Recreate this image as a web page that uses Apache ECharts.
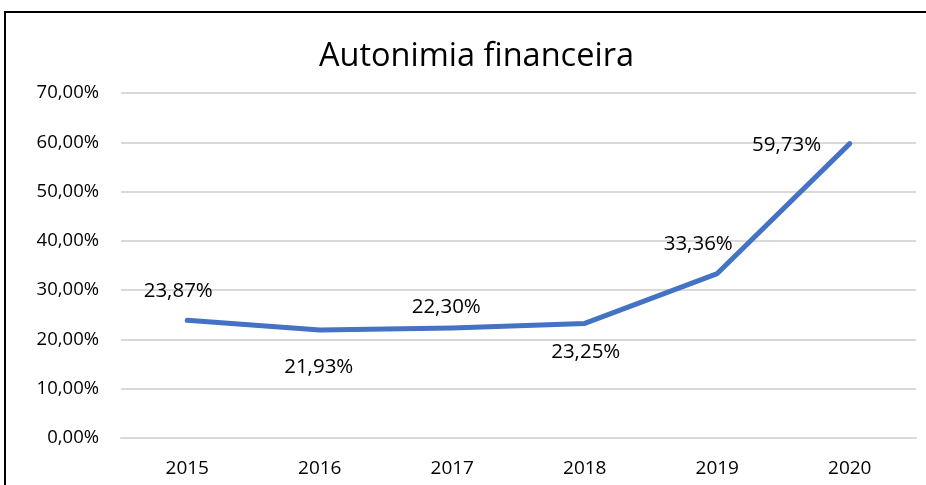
<!DOCTYPE html>
<html>
<head>
<meta charset="utf-8">
<script src="https://cdn.jsdelivr.net/npm/echarts@6/dist/echarts.min.js"></script>
<style>
  html, body { margin: 0; padding: 0; background: #fff; }
  #frame {
    position: absolute;
    left: 4px;
    top: 11px;
    width: 940px;
    height: 500px;
    border: 2px solid #000;
    box-sizing: border-box;
  }
  #chart {
    position: absolute;
    left: 0;
    top: 0;
    width: 926px;
    height: 485px;
  }
</style>
</head>
<body>
<div id="frame"></div>
<div id="chart"></div>
<script>
  // dados
  var anos = ['2015', '2016', '2017', '2018', '2019', '2020'];
  var autonomia = [23.87, 21.93, 22.30, 23.25, 33.36, 59.73];
  var yTicks = [0, 10, 20, 30, 40, 50, 60, 70];

  // posicao de cada rotulo (como no Excel)
  var labelCfg = [
    { position: 'top', offset: [-9, -4] },
    { position: 'bottom', offset: [-1, 12] },
    { position: 'top', offset: [-6, 4] },
    { position: 'bottom', offset: [1, 4] },
    { position: 'top', offset: [-19, -4] },
    { position: 'left', offset: [-14, 2] }
  ];

  function pct(v) {
    return v.toFixed(2).replace('.', ',') + '%';
  }

  var font = '"Open Sans", "Liberation Sans", sans-serif';

  var myChart = echarts.init(document.getElementById('chart'));
  var option = {
    animation: false,
    title: {
      text: 'Autonimia financeira',
      left: 314,
      top: 35,
      textStyle: {
        fontFamily: font,
        fontWeight: 'normal',
        fontSize: 32.5,
        color: '#000'
      }
    },
    grid: {
      left: 121,
      right: 10,
      top: 93,
      bottom: 47
    },
    xAxis: {
      type: 'category',
      data: anos,
      boundaryGap: true,
      axisTick: { show: false },
      axisLine: { lineStyle: { color: '#d9d9d9', width: 2 } },
      axisLabel: {
        fontFamily: font,
        fontSize: 19,
        color: '#000',
        margin: 21
      }
    },
    yAxis: {
      type: 'value',
      min: yTicks[0],
      max: yTicks[yTicks.length - 1],
      interval: 10,
      axisLine: { show: false },
      axisTick: { show: false },
      splitLine: { lineStyle: { color: '#d9d9d9', width: 2 } },
      axisLabel: {
        fontFamily: font,
        fontSize: 18.5,
        color: '#000',
        margin: 22,
        formatter: function (v) { return pct(v); }
      }
    },
    series: [
      {
        type: 'line',
        symbol: 'circle',
        symbolSize: 1,
        showSymbol: true,
        lineStyle: { color: '#4472C4', width: 5, cap: 'round', join: 'round' },
        itemStyle: { color: 'rgba(68,114,196,0)', borderWidth: 0 },
        label: {
          show: true,
          distance: 14,
          fontFamily: font,
          fontSize: 20.5,
          color: '#000',
          formatter: function (p) { return pct(p.value); }
        },
        data: autonomia.map(function (v, i) {
          return {
            value: v,
            label: {
              position: labelCfg[i].position,
              offset: labelCfg[i].offset
            }
          };
        })
      }
    ]
  };
  myChart.setOption(option);
</script>
</body>
</html>
